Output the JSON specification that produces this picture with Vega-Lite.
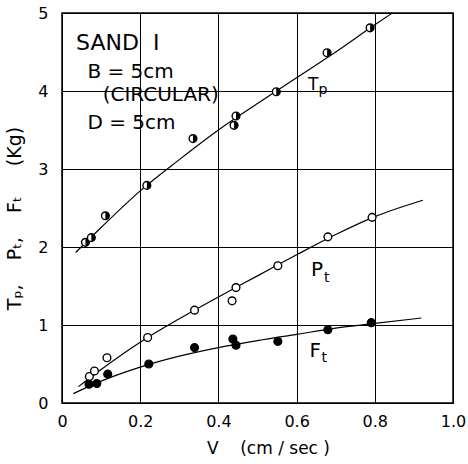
{
  "$schema": "https://vega.github.io/schema/vega-lite/v6.json",
  "width": 391,
  "height": 390,
  "autosize": {"type": "none"},
  "padding": {"left": 62, "top": 13, "right": 15, "bottom": 61},
  "background": "white",
  "config": {
    "view": {"stroke": "black", "strokeWidth": 1.5},
    "font": "DejaVu Sans",
    "axis": {
      "grid": true, "gridColor": "black", "gridOpacity": 1, "gridWidth": 1,
      "domain": false, "ticks": false,
      "labelColor": "black", "titleColor": "black",
      "labelFont": "DejaVu Sans", "titleFont": "DejaVu Sans",
      "labelFontSize": 16, "titleFontSize": 17, "titleFontWeight": "normal"
    }
  },
  "datasets": {
    "points": [
      {"series": "Tp", "v": 0.060, "val": 2.06},
      {"series": "Tp", "v": 0.075, "val": 2.12},
      {"series": "Tp", "v": 0.111, "val": 2.40},
      {"series": "Tp", "v": 0.217, "val": 2.79},
      {"series": "Tp", "v": 0.335, "val": 3.39},
      {"series": "Tp", "v": 0.440, "val": 3.56},
      {"series": "Tp", "v": 0.445, "val": 3.68},
      {"series": "Tp", "v": 0.548, "val": 3.99},
      {"series": "Tp", "v": 0.678, "val": 4.49},
      {"series": "Tp", "v": 0.788, "val": 4.81},
      {"series": "Pt", "v": 0.070, "val": 0.34},
      {"series": "Pt", "v": 0.083, "val": 0.41},
      {"series": "Pt", "v": 0.115, "val": 0.58},
      {"series": "Pt", "v": 0.219, "val": 0.84},
      {"series": "Pt", "v": 0.339, "val": 1.19},
      {"series": "Pt", "v": 0.435, "val": 1.31},
      {"series": "Pt", "v": 0.445, "val": 1.48},
      {"series": "Pt", "v": 0.552, "val": 1.76},
      {"series": "Pt", "v": 0.680, "val": 2.13},
      {"series": "Pt", "v": 0.793, "val": 2.38},
      {"series": "Ft", "v": 0.069, "val": 0.24},
      {"series": "Ft", "v": 0.089, "val": 0.25},
      {"series": "Ft", "v": 0.117, "val": 0.37},
      {"series": "Ft", "v": 0.222, "val": 0.50},
      {"series": "Ft", "v": 0.339, "val": 0.71},
      {"series": "Ft", "v": 0.437, "val": 0.82},
      {"series": "Ft", "v": 0.445, "val": 0.74},
      {"series": "Ft", "v": 0.552, "val": 0.79},
      {"series": "Ft", "v": 0.680, "val": 0.94},
      {"series": "Ft", "v": 0.791, "val": 1.03}
    ],
    "curves": [
      {"series": "Tp", "v": 0.035, "val": 1.93},
      {"series": "Tp", "v": 0.1, "val": 2.25},
      {"series": "Tp", "v": 0.2, "val": 2.72},
      {"series": "Tp", "v": 0.3, "val": 3.12},
      {"series": "Tp", "v": 0.4, "val": 3.5},
      {"series": "Tp", "v": 0.5, "val": 3.84},
      {"series": "Tp", "v": 0.6, "val": 4.17},
      {"series": "Tp", "v": 0.7, "val": 4.5},
      {"series": "Tp", "v": 0.8, "val": 4.85},
      {"series": "Tp", "v": 0.845, "val": 5.0},
      {"series": "Pt", "v": 0.042, "val": 0.21},
      {"series": "Pt", "v": 0.1, "val": 0.43},
      {"series": "Pt", "v": 0.2, "val": 0.78},
      {"series": "Pt", "v": 0.3, "val": 1.08},
      {"series": "Pt", "v": 0.4, "val": 1.36},
      {"series": "Pt", "v": 0.5, "val": 1.63},
      {"series": "Pt", "v": 0.6, "val": 1.9},
      {"series": "Pt", "v": 0.7, "val": 2.16},
      {"series": "Pt", "v": 0.8, "val": 2.39},
      {"series": "Pt", "v": 0.923, "val": 2.6},
      {"series": "Ft", "v": 0.029, "val": 0.12},
      {"series": "Ft", "v": 0.1, "val": 0.28},
      {"series": "Ft", "v": 0.2, "val": 0.46},
      {"series": "Ft", "v": 0.3, "val": 0.6},
      {"series": "Ft", "v": 0.4, "val": 0.71},
      {"series": "Ft", "v": 0.5, "val": 0.8},
      {"series": "Ft", "v": 0.6, "val": 0.88},
      {"series": "Ft", "v": 0.7, "val": 0.96},
      {"series": "Ft", "v": 0.8, "val": 1.02},
      {"series": "Ft", "v": 0.919, "val": 1.09}
    ],
    "notes": [
      {"role": "head", "text": "SAND\u00a0\u00a0I", "v": 0.036, "val": 4.62},
      {"role": "body", "text": "B = 5cm", "v": 0.065, "val": 4.25},
      {"role": "body", "text": "(CIRCULAR)", "v": 0.104, "val": 3.95},
      {"role": "body", "text": "D = 5cm", "v": 0.065, "val": 3.59}
    ],
    "labels": [
      {"role": "small", "text": "T", "v": 0.629, "val": 4.08},
      {"role": "sub", "text": "p", "v": 0.656, "val": 4.01},
      {"role": "big", "text": "P", "v": 0.637, "val": 1.70},
      {"role": "sub", "text": "t", "v": 0.670, "val": 1.60},
      {"role": "big", "text": "F", "v": 0.633, "val": 0.67},
      {"role": "sub", "text": "t", "v": 0.664, "val": 0.58}
    ]
  },
  "encoding": {
    "x": {
      "field": "v", "type": "quantitative",
      "scale": {"domain": [0, 1], "nice": false, "zero": false},
      "axis": {
        "values": [0, 0.2, 0.4, 0.6, 0.8, 1.0],
        "labelExpr": "datum.value == 0 ? '0' : format(datum.value, '.1f')",
        "labelFlush": false, "labelOverlap": false,
        "labelPadding": 10,
        "title": "V\u00a0\u00a0\u00a0\u00a0(cm\u00a0/\u00a0sec\u00a0)", "titlePadding": 11, "titleX": 206
      }
    },
    "y": {
      "field": "val", "type": "quantitative",
      "scale": {"domain": [0, 5], "nice": false, "zero": false},
      "axis": {
        "values": [0, 1, 2, 3, 4, 5], "format": "d",
        "labelFlush": false, "labelOverlap": false,
        "labelPadding": 14,
        "title": "Tₚ,\u00a0\u00a0\u00a0\u00a0Pₜ,\u00a0\u00a0\u00a0\u00a0Fₜ\u00a0\u00a0\u00a0\u00a0\u00a0(Kg)", "titlePadding": 13, "titleY": 205, "titleFontSize": 19
      }
    }
  },
  "layer": [
    {
      "data": {"name": "curves"},
      "mark": {"type": "line", "color": "black", "strokeWidth": 1.2, "interpolate": "monotone"},
      "encoding": {"detail": {"field": "series"}}
    },
    {
      "data": {"name": "points"},
      "transform": [{"filter": "datum.series != 'Ft'"}],
      "mark": {"type": "point", "shape": "circle", "filled": true, "fill": "white", "stroke": "black", "strokeWidth": 1.4, "size": 60, "opacity": 1}
    },
    {
      "data": {"name": "points"},
      "transform": [{"filter": "datum.series == 'Tp'"}],
      "mark": {"type": "point", "shape": "M0,-1A1,1,0,0,1,0,1Z", "filled": true, "fill": "black", "strokeWidth": 0, "size": 60, "opacity": 1}
    },
    {
      "data": {"name": "points"},
      "transform": [{"filter": "datum.series == 'Ft'"}],
      "mark": {"type": "point", "shape": "circle", "filled": true, "fill": "black", "stroke": "black", "strokeWidth": 1.4, "size": 60, "opacity": 1}
    },
    {
      "data": {"name": "notes"},
      "transform": [{"filter": "datum.role == 'head'"}],
      "mark": {"type": "text", "align": "left", "baseline": "middle", "fontSize": 22, "color": "black"},
      "encoding": {"text": {"field": "text"}}
    },
    {
      "data": {"name": "notes"},
      "transform": [{"filter": "datum.role == 'body'"}],
      "mark": {"type": "text", "align": "left", "baseline": "middle", "fontSize": 20, "color": "black"},
      "encoding": {"text": {"field": "text"}}
    },
    {
      "data": {"name": "labels"},
      "transform": [{"filter": "datum.role == 'small'"}],
      "mark": {"type": "text", "align": "left", "baseline": "middle", "fontSize": 17, "color": "black"},
      "encoding": {"text": {"field": "text"}}
    },
    {
      "data": {"name": "labels"},
      "transform": [{"filter": "datum.role == 'big'"}],
      "mark": {"type": "text", "align": "left", "baseline": "middle", "fontSize": 20, "color": "black"},
      "encoding": {"text": {"field": "text"}}
    },
    {
      "data": {"name": "labels"},
      "transform": [{"filter": "datum.role == 'sub'"}],
      "mark": {"type": "text", "align": "left", "baseline": "middle", "fontSize": 14, "color": "black"},
      "encoding": {"text": {"field": "text"}}
    }
  ]
}
